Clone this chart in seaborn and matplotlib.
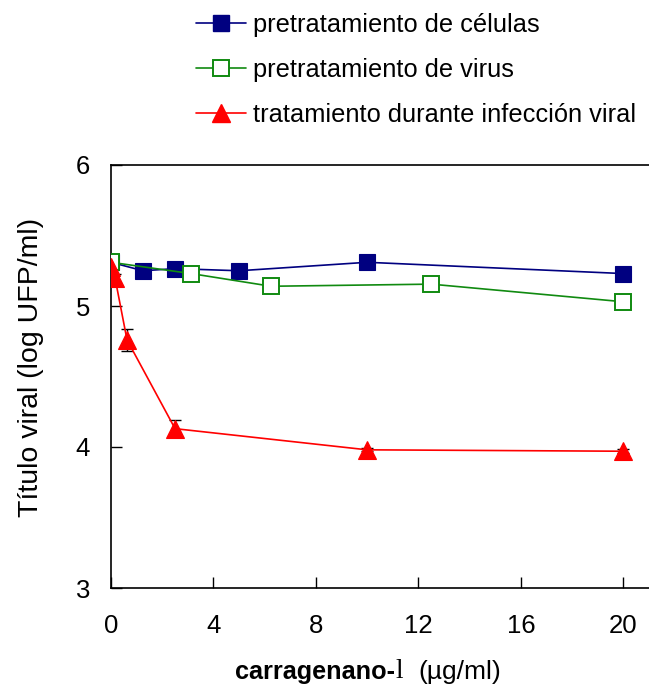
import matplotlib
matplotlib.use("Agg")
import matplotlib.pyplot as plt
import seaborn as sns
import pandas as pd
from matplotlib.lines import Line2D

# ---- data ----
cells_x = [0, 1.25, 2.5, 5, 10, 20]
cells_y = [5.31, 5.25, 5.265, 5.25, 5.31, 5.23]

virus_x = [0, 3.125, 6.25, 12.5, 20]
virus_y = [5.31, 5.23, 5.14, 5.155, 5.03]

treat_x = [0, 0.156, 0.625, 2.5, 10, 20]
treat_y = [5.28, 5.20, 4.76, 4.13, 3.98, 3.97]
treat_err = [0.02, 0.03, 0.08, 0.06, 0.01, 0.015]

labels = ["pretratamiento de células", "pretratamiento de virus",
          "tratamiento durante infección viral"]
xticks = [0, 4, 8, 12, 16, 20]
yticks = [3, 4, 5, 6]

sns.set_style("ticks")
plt.rcParams['font.family'] = ['Liberation Sans', 'DejaVu Sans']
plt.rcParams['text.color'] = 'black'

fig = plt.figure(figsize=(6.49, 6.84), dpi=100)
ax = fig.add_axes([111/649, 96/684, 538/649, 423/684])

navy = "#000080"
green = "#108a10"
red = "#ff0000"

df_c = pd.DataFrame({"x": cells_x, "y": cells_y})
df_v = pd.DataFrame({"x": virus_x, "y": virus_y})
df_t = pd.DataFrame({"x": treat_x, "y": treat_y})

ax.errorbar(treat_x, treat_y, yerr=treat_err, fmt='none', ecolor='black',
            elinewidth=1.0, capsize=4.3, capthick=1.0, zorder=2)

sns.lineplot(data=df_c, x="x", y="y", ax=ax, color=navy, lw=1.2,
             marker='s', markersize=11.5, markeredgecolor=navy,
             markerfacecolor=navy, markeredgewidth=0.8, zorder=3,
             sort=False, errorbar=None)
sns.lineplot(data=df_v, x="x", y="y", ax=ax, color=green, lw=1.2,
             marker='s', markersize=11, markeredgecolor=green,
             markerfacecolor='white', markeredgewidth=1.4, zorder=4,
             sort=False, errorbar=None)
sns.lineplot(data=df_t, x="x", y="y", ax=ax, color=red, lw=1.2,
             marker='^', markersize=13, markeredgecolor=red,
             markerfacecolor=red, markeredgewidth=0.8, zorder=5,
             sort=False, errorbar=None)

ax.set_xlim(0, 21.0)
ax.set_ylim(3, 6)
ax.set_xticks(xticks)
ax.set_yticks(yticks)
ax.set_xlabel("")
ax.set_ylabel("")
ax.tick_params(axis='both', direction='in', length=8, width=1.0,
               labelsize=18.5, colors='black')
ax.tick_params(axis='y', pad=15)
ax.tick_params(axis='x', pad=19)
for s in ['left', 'bottom', 'top']:
    ax.spines[s].set_color('black')
    ax.spines[s].set_linewidth(1.2)
ax.spines['right'].set_visible(False)

fig.text(31/649, 1 - 367/684, "Título viral (log UFP/ml)", rotation=90,
         ha='center', va='center', fontsize=20.5, color='black')

# x label with mixed fonts
ylab = 1 - 672/684
t1 = fig.text(235/649, ylab, "carragenano-", ha='left', va='center',
              fontsize=18.2, fontweight='bold', color='black')
fig.canvas.draw()
r = fig.canvas.get_renderer()
bb = t1.get_window_extent(r)
t2 = fig.text(bb.x1 / fig.bbox.width, ylab, "l",
              ha='left', va='center', fontsize=19.5,
              family=['Liberation Serif'], color='black')
bb2 = t2.get_window_extent(r)
fig.text(bb2.x1 / fig.bbox.width + 16/649, ylab, "(µg/ml)", ha='left',
         va='center', fontsize=19, color='black')

handles = [
    Line2D([], [], color=navy, lw=1.2, marker='s', markersize=12,
           markerfacecolor=navy, markeredgecolor=navy),
    Line2D([], [], color=green, lw=1.2, marker='s', markersize=11,
           markerfacecolor='white', markeredgecolor=green, markeredgewidth=1.4),
    Line2D([], [], color=red, lw=1.2, marker='^', markersize=13,
           markerfacecolor=red, markeredgecolor=red),
]
leg = fig.legend(handles, labels, loc='upper left',
                 bbox_to_anchor=(191/649, 1 - 8/684), frameon=False,
                 fontsize=18.3, handlelength=1.95, handletextpad=0.28,
                 labelspacing=0.82, borderpad=0.2, borderaxespad=0)
for t in leg.get_texts():
    t.set_color('black')

fig.savefig("out.png", dpi=100)
